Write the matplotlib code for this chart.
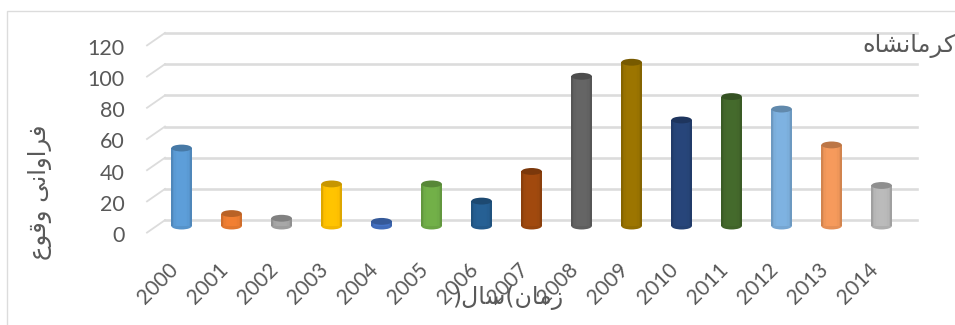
import numpy as np
import matplotlib
matplotlib.use("Agg")
import matplotlib.pyplot as plt
from matplotlib.patches import Ellipse, Rectangle
from matplotlib.colors import to_rgb
from matplotlib.transforms import ScaledTranslation

# داده ها
years = ['2000', '2001', '2002', '2003', '2004', '2005', '2006', '2007',
         '2008', '2009', '2010', '2011', '2012', '2013', '2014']
values = [50, 8, 5, 27, 3, 27, 16, 35, 96, 105, 68, 83, 75, 52, 26]
colors = ['#5B9BD5', '#ED7D31', '#A5A5A5', '#FFC000', '#4472C4',
          '#70AD47', '#255E91', '#9E480E', '#636363', '#997300',
          '#264478', '#43682B', '#7CAFDD', '#F1975A', '#B7B7B7']
y_ticks = [0, 20, 40, 60, 80, 100, 120]

# presentation forms, visual order (matplotlib does no shaping)
city_label = '\uFEE9\uFE8E\uFEB8\uFEE7\uFE8E\uFEE3\uFEAE\uFB90'
y_title = '\uFEC9\uFEEE\uFED7\uFEED \uFBFD\uFEE7\uFE8D\uFEED\uFE8D\uFEAE\uFED3'
x_title = ')\uFEDD\uFE8E\uFEB3(\uFEE5\uFE8E\uFEE3\uFEAF'

W, H = 955, 325
GREY = '#595959'
GRID = '#DCDCDC'
floor = 4.2      # bar base sits a bit behind the front edge
depth = 8.0      # how far up the back wall starts, in value units
bar_w = 0.41
cap_h = 4.4

fig = plt.figure(figsize=(W / 100, H / 100), dpi=100)
fig.patch.set_facecolor('white')

# chart frame, runs off the right and bottom of the crop
fig.add_artist(Rectangle((6.5 / W, -0.1), 1.1, 1 - 11.5 / H + 0.1, transform=fig.transFigure,
                         fill=False, edgecolor=GRID, linewidth=1))

# px: x 147..917, y 232.6 at value 0, 1.56 px per unit
left, right = 147, 917
bottom_px, top_px = 232.6, 33
ax = fig.add_axes([left / W, 1 - bottom_px / H, (right - left) / W, (bottom_px - top_px) / H])
ax.set_xlim((left - 181.6) / 50, (right - 181.6) / 50)
ax.set_ylim(0, (bottom_px - top_px) / 1.56)
for s in ax.spines.values():
    s.set_visible(False)
ax.patch.set_alpha(0)

# back wall lines and the short diagonals on the side
x0, x1 = ax.get_xlim()
x_back = x0 + 18 / 50
for t in y_ticks:
    ax.plot([x0, x_back], [t, t + depth], color=GRID, lw=1.3, zorder=1, clip_on=False)
    ax.plot([x_back, x1], [t + depth, t + depth], color=GRID, lw=1.9, zorder=1, clip_on=False)

# cylinders
for i, (v, c) in enumerate(zip(values, colors)):
    rgb = np.array(to_rgb(c))
    n = 14
    edges = np.linspace(-bar_w / 2, bar_w / 2, n + 1)
    ax.add_patch(Ellipse((i, floor), bar_w, cap_h, facecolor=rgb * 0.95, edgecolor='none', zorder=3))
    for k in range(n):
        u = (edges[k] + edges[k + 1]) / bar_w
        shade = 0.72 + 0.3 * np.sqrt(max(0, 1 - u ** 4))
        ax.bar(i + (edges[k] + edges[k + 1]) / 2, v, width=bar_w / n + 0.002, bottom=floor,
               color=np.clip(rgb * shade, 0, 1), zorder=4)
    ax.add_patch(Ellipse((i, v + floor), bar_w, cap_h, facecolor=rgb * 0.78, edgecolor='none', zorder=5))

ax.set_yticks(y_ticks)
ax.set_yticklabels(y_ticks)
ax.set_xticks(range(len(years)))
ax.set_xticklabels(years, rotation=45, ha='right', rotation_mode='anchor')
ax.tick_params(axis='y', length=0, pad=16, labelsize=15.5, labelcolor=GREY)
ax.tick_params(axis='x', length=0, pad=19, labelsize=15, labelcolor=GREY)
for lab in ax.get_xticklabels() + ax.get_yticklabels():
    lab.set_fontfamily('Lato')

# year labels sit further left in the original
nudge_x = ScaledTranslation(-14 / 100, 0, fig.dpi_scale_trans)
for lab in ax.get_xticklabels():
    lab.set_transform(lab.get_transform() + nudge_x)
nudge_y = ScaledTranslation(0, -1.5 / 100, fig.dpi_scale_trans)
for lab in ax.get_yticklabels():
    lab.set_transform(lab.get_transform() + nudge_y)

fig.text(508 / W, 1 - 297 / H, x_title, fontsize=17, color=GREY, ha='center', va='center',
         family='DejaVu Sans')
fig.text(40 / W, 1 - 192 / H, y_title, fontsize=17.5, color=GREY, rotation=90, ha='center', va='center',
         family='DejaVu Sans')
fig.text(862 / W, 1 - 46 / H, city_label, fontsize=17.4, color=GREY, ha='left', va='center',
         family='DejaVu Sans')

plt.savefig('out.png', dpi=100)
